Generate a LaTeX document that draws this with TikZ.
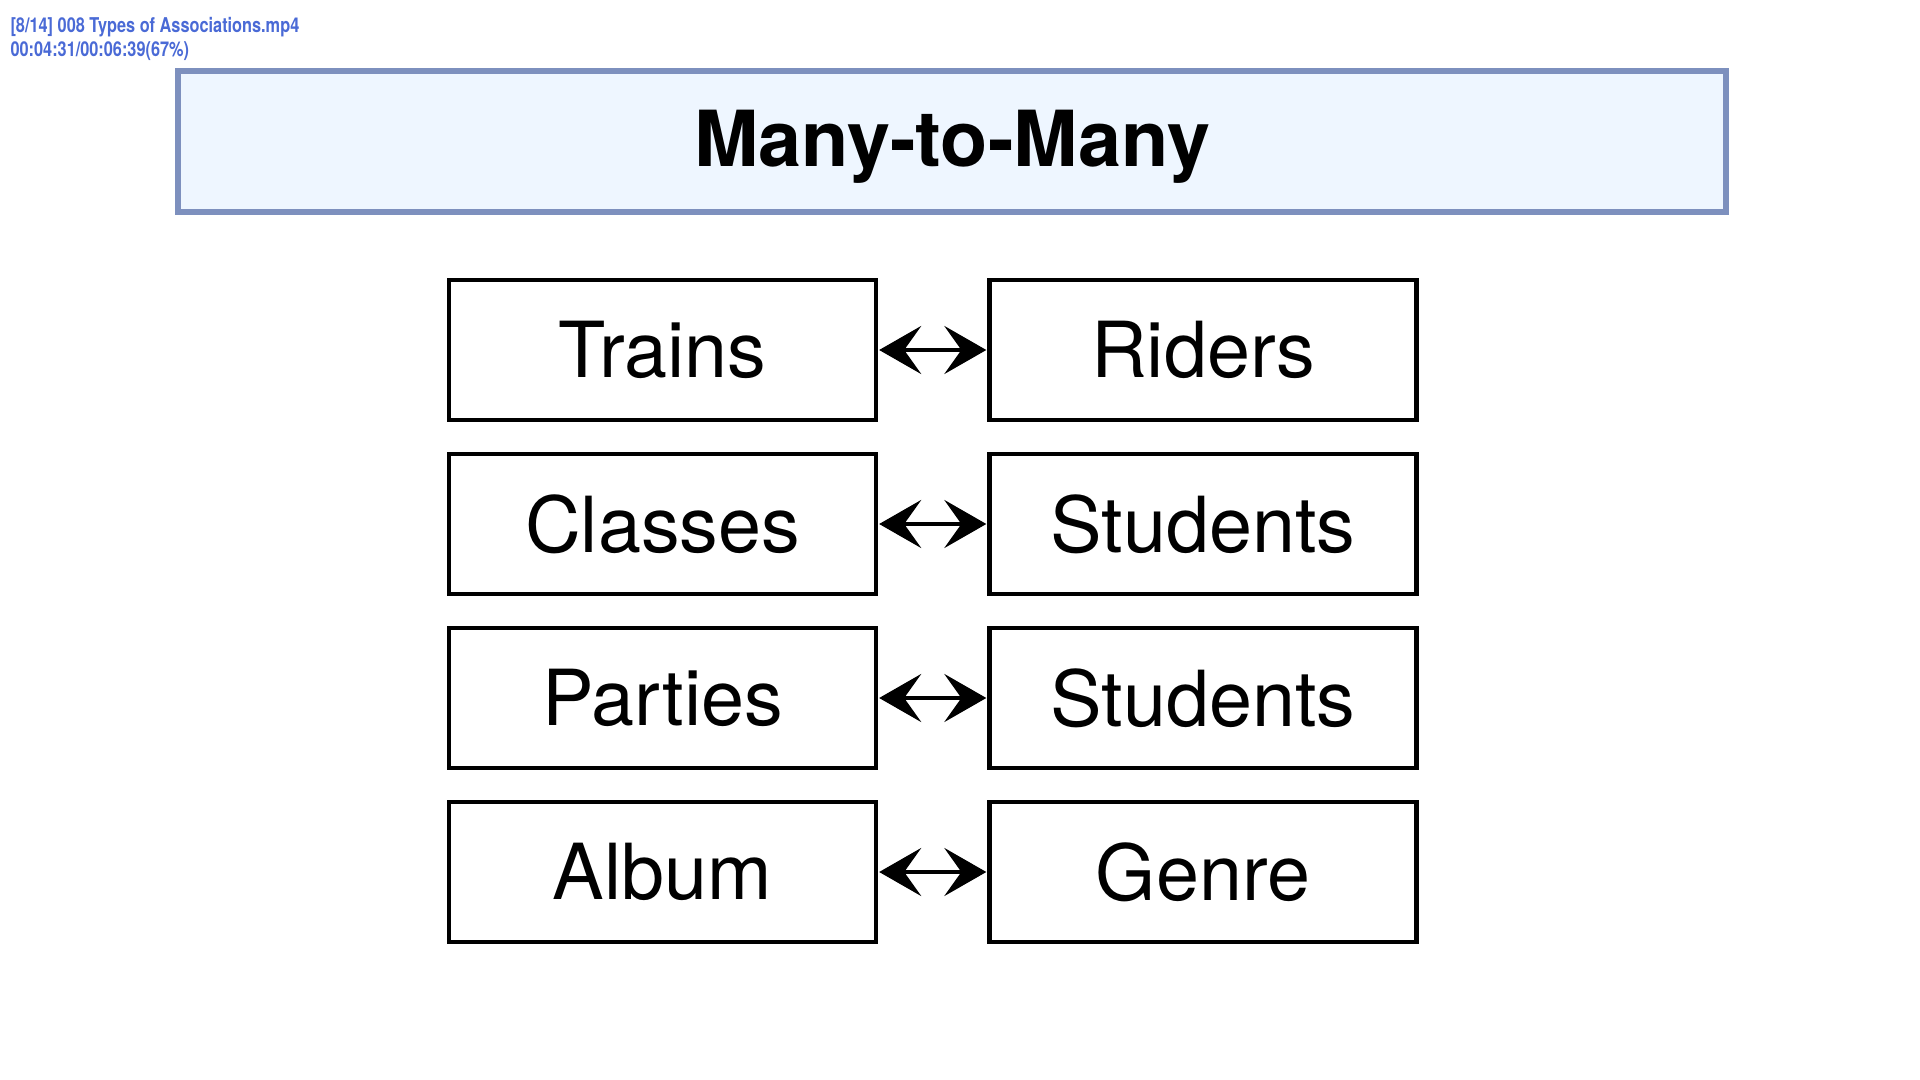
\documentclass[tikz,border=0pt]{standalone}
\usepackage{fontspec}
\setmainfont{TeX Gyre Heros}
\usepackage{xcolor}
\definecolor{TitleEdge}{HTML}{7D90BE}
\definecolor{TitleFill}{HTML}{EEF6FF}
\definecolor{PlayerBlue}{HTML}{4A6AD6}
\usetikzlibrary{arrows.meta,positioning}

\begin{document}
\begin{tikzpicture}[
  >={Stealth[length=4.2mm,width=4.8mm,inset=1.7mm]},
  entity/.style={draw=black,line width=1.2pt,fill=white,minimum width=42.7mm,minimum height=14mm,inner sep=0pt,font=\fontsize{22}{26}\selectfont},
  banner/.style={draw=TitleEdge,line width=1.6pt,fill=TitleFill,minimum width=154.8mm,minimum height=14.1mm,font=\fontsize{22}{26}\selectfont\bfseries},
  link/.style={<->,line width=1.2pt,shorten <=0.3pt,shorten >=0.3pt},
  overlay/.style={font=\fontsize{5.8}{6.6}\selectfont\bfseries,text=PlayerBlue,align=left,inner sep=0pt,xscale=0.8,transform shape}
]
\useasboundingbox[fill=white] (0,0) rectangle (19.2,-10.8);

% player caption
\node[overlay,anchor=north west] (caption) at (0.1,-0.17) {[8/14] 008 Types of Associations.mp4\\00:04:31/00:06:39(67\%)};

\node[banner] (title) at (9.52,-1.415) {};
\node[font=\fontsize{22}{26}\selectfont\bfseries] (heading) at (9.52,-1.47) {Many-to-Many};

% left column
\node[entity] (trains) at (6.625,-3.50) {Trains};
\node[entity] (classes) at (6.625,-5.24) {Classes};
\node[entity] (parties) at (6.625,-6.98) {Parties};
\node[entity] (album) at (6.625,-8.72) {Album};

% right column
\node[entity] (riders) at (12.03,-3.50) {Riders};
\node[entity] (students) at (12.03,-5.24) {Students};
\node[entity] (guests) at (12.03,-6.98) {Students};
\node[entity] (genre) at (12.03,-8.72) {Genre};

\draw[link] (trains) -- (riders);
\draw[link] (classes) -- (students);
\draw[link] (parties) -- (guests);
\draw[link] (album) -- (genre);
\end{tikzpicture}
\end{document}
